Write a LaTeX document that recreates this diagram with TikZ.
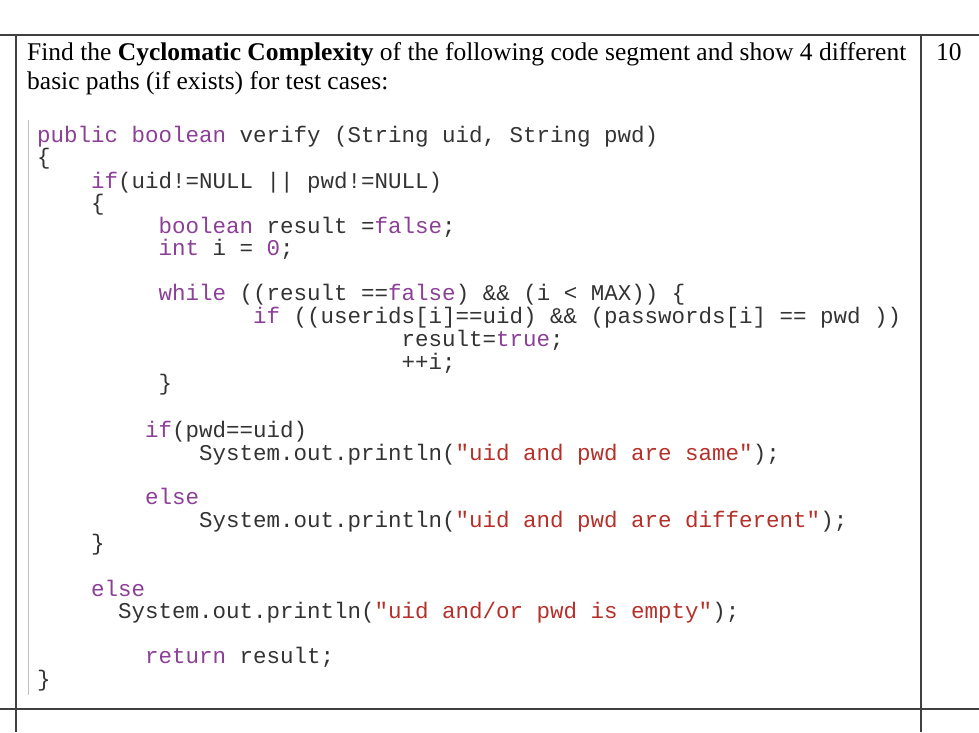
\documentclass[tikz,border=0pt]{standalone}
\usepackage{fontspec}
\setmainfont{Liberation Serif}
\newfontfamily\codefont{Liberation Mono}
\definecolor{kw}{HTML}{8B3F96}
\definecolor{str}{HTML}{B5302A}
\definecolor{tx}{HTML}{333333}
\begin{document}
\begin{tikzpicture}[x=1pt,y=-1pt,
  rule/.style={line width=1.2pt,black!75},
  cl/.style={anchor=base west,inner sep=0pt,font=\codefont\fontsize{22.5}{24}\selectfont,text=tx},
  hd/.style={anchor=base west,inner sep=0pt,font=\fontsize{25.5}{28}\selectfont}]
\useasboundingbox (0,0) rectangle (979,732);
\draw[rule] (0,35) -- (979,35);
\draw[rule] (0,709) -- (979,709);
\draw[rule] (16,35) -- (16,732);
\draw[rule] (921,35) -- (921,732);
\draw[black!25,line width=0.8pt] (28,120) -- (28,695);
\node[hd] (h1) at (27,60) {Find the \textbf{Cyclomatic Complexity} of the following code segment and show 4 different};
\node[hd] (h2) at (27,89) {basic paths (if exists) for test cases:};
\node[hd] (pts) at (936,60) {10};
\def\cw{13.5}
\node[cl] (l1) at (37,142) {\textcolor{kw}{public boolean} verify (String uid, String pwd)};
\node[cl] (l2) at (37,164) {\{};
\node[cl] (l3) at (37+4*\cw,188) {\textcolor{kw}{if}(uid!=NULL || pwd!=NULL)};
\node[cl] (l4) at (37+4*\cw,210) {\{};
\node[cl] (l5) at (37+9*\cw,233) {\textcolor{kw}{boolean} result =\textcolor{kw}{false};};
\node[cl] (l6) at (37+9*\cw,255) {\textcolor{kw}{int} i = \textcolor{kw}{0};};
\node[cl] (l7) at (37+9*\cw,300) {\textcolor{kw}{while} ((result ==\textcolor{kw}{false}) \&\& (i < MAX)) \{};
\node[cl] (l8) at (37+16*\cw,323) {\textcolor{kw}{if} ((userids[i]==uid) \&\& (passwords[i] == pwd ))};
\node[cl] (l9) at (37+27*\cw,346) {result=\textcolor{kw}{true};};
\node[cl] (l10) at (37+27*\cw,369) {++i;};
\node[cl] (l11) at (37+9*\cw,390) {\}};
\node[cl] (l12) at (37+8*\cw,437) {\textcolor{kw}{if}(pwd==uid)};
\node[cl] (l13) at (37+12*\cw,460) {System.out.println(\textcolor{str}{"uid and pwd are same"});};
\node[cl] (l14) at (37+8*\cw,504) {\textcolor{kw}{else}};
\node[cl] (l15) at (37+12*\cw,527) {System.out.println(\textcolor{str}{"uid and pwd are different"});};
\node[cl] (l16) at (37+4*\cw,550) {\}};
\node[cl] (l17) at (37+4*\cw,596) {\textcolor{kw}{else}};
\node[cl] (l18) at (37+6*\cw,618) {System.out.println(\textcolor{str}{"uid and/or pwd is empty"});};
\node[cl] (l19) at (37+8*\cw,663) {\textcolor{kw}{return} result;};
\node[cl] (l20) at (37,686) {\}};
\end{tikzpicture}
\end{document}
